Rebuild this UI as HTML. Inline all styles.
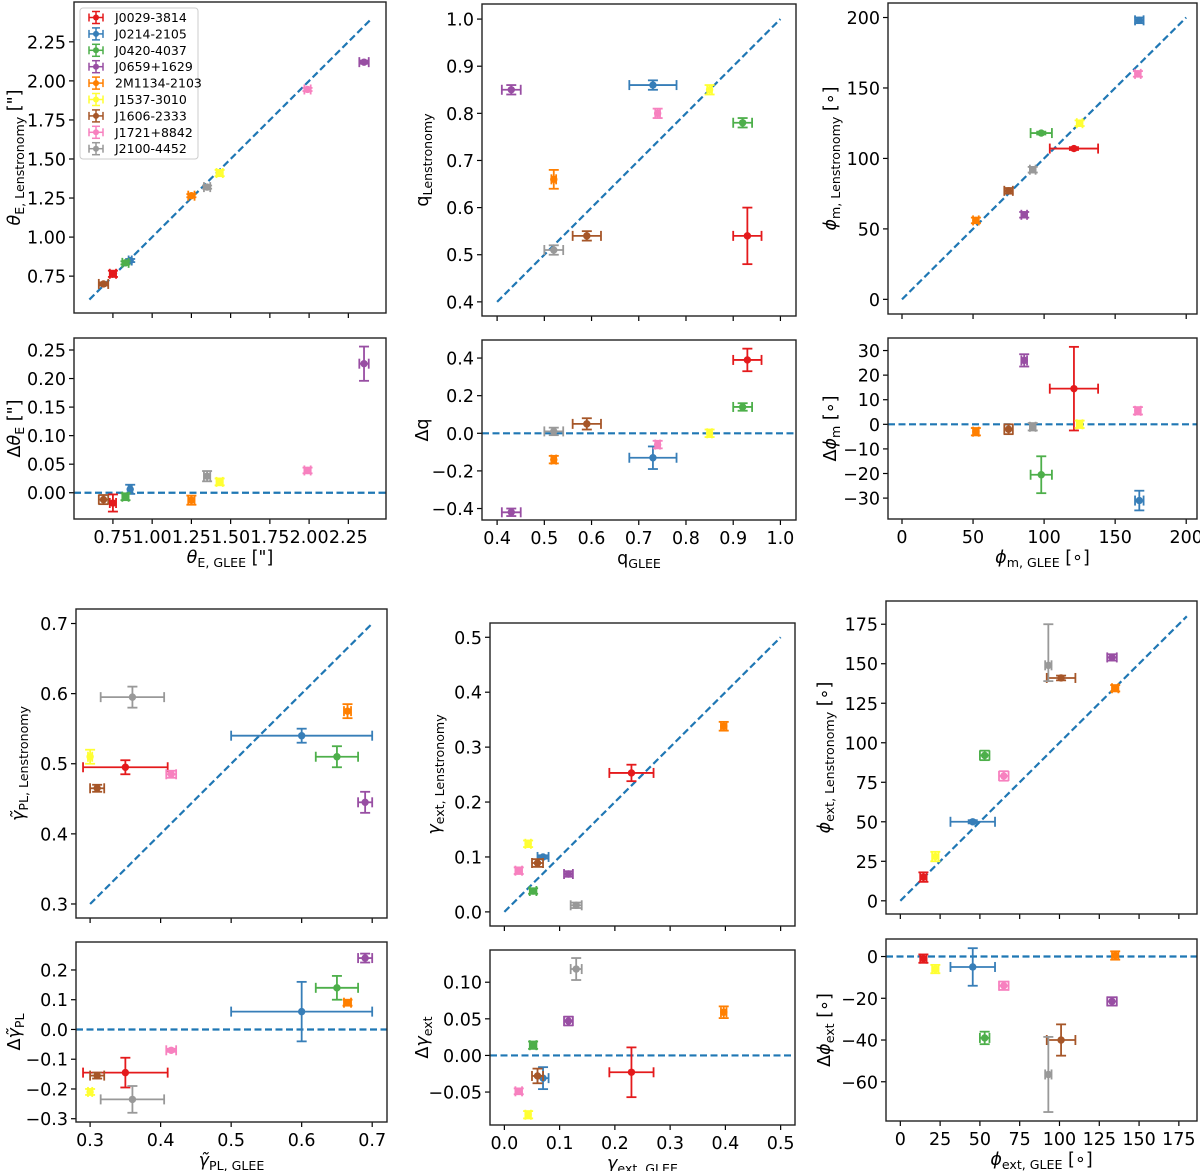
<!DOCTYPE html>
<html><head><meta charset="utf-8"><style>
html,body{margin:0;padding:0;background:#fff}
svg{display:block;font-family:"DejaVu Sans","Liberation Sans",sans-serif}
</style></head><body>
<svg id="fig" width="1200" height="1171" viewBox="0 0 1200 1171" xmlns="http://www.w3.org/2000/svg"></svg>
<script>
// ---- data (order: J0029, J0214, J0420, J0659, 2M1134, J1537, J1606, J1721, J2100)
const lensNames = ["J0029-3814","J0214-2105","J0420-4037","J0659+1629","2M1134-2103","J1537-3010","J1606-2333","J1721+8842","J2100-4452"];
const lensColors = ["#e41a1c","#377eb8","#4daf4a","#984ea3","#ff7f00","#ffff33","#a65628","#f781bf","#999999"];

const thetaGlee = [0.75,0.86,0.83,2.35,1.25,1.43,0.69,1.99,1.35];
const thetaGleeErr = [0.02,0.01,0.02,0.03,0.02,0.02,0.03,0.02,0.02];
const thetaLens = [0.765,0.85,0.835,2.12,1.265,1.41,0.70,1.945,1.32];
const thetaLensErr = [0.02,0.01,0.01,0.01,0.01,0.02,0.01,0.01,0.01];
const thetaDelta = [-0.018,0.006,-0.007,0.226,-0.013,0.019,-0.012,0.039,0.029];
const thetaDeltaErr = [0.015,0.008,0.006,0.03,0.008,0.006,0.008,0.005,0.009];

const qGlee = [0.93,0.73,0.92,0.43,0.52,0.85,0.59,0.74,0.52];
const qGleeErr = [0.03,0.05,0.02,0.02,0.005,0.005,0.03,0.005,0.02];
const qLens = [0.54,0.86,0.78,0.85,0.66,0.85,0.54,0.80,0.51];
const qLensErr = [0.06,0.01,0.01,0.01,0.02,0.01,0.01,0.01,0.01];
const qDelta = [0.39,-0.13,0.14,-0.42,-0.14,0.0,0.05,-0.06,0.01];
const qDeltaErr = [0.06,0.06,0.02,0.02,0.02,0.02,0.03,0.02,0.02];

const phiGlee = [121,167,98,86,52,125,75,166,92];
const phiGleeErr = [17,3,7.5,2,2,2,3,2,2];
const phiLens = [107,198,118,60,56,125,77,160,92];
const phiLensErr = [1,2,1,2,2,2,2,2,2];
const phiDelta = [14.5,-31,-20.5,26,-3,0,-2,5.5,-1];
const phiDeltaErr = [17,4,7.5,2.5,1.5,1.5,2,1.5,1.5];

const gamGlee = [0.35,0.60,0.65,0.69,0.665,0.30,0.31,0.415,0.36];
const gamGleeErr = [0.06,0.10,0.03,0.01,0.005,0.003,0.01,0.007,0.045];
const gamLens = [0.495,0.54,0.51,0.445,0.575,0.51,0.465,0.485,0.595];
const gamLensErr = [0.01,0.01,0.015,0.015,0.01,0.01,0.005,0.005,0.015];
const gamDelta = [-0.145,0.06,0.14,0.24,0.09,-0.21,-0.155,-0.07,-0.235];
const gamDeltaErr = [0.05,0.10,0.04,0.015,0.01,0.01,0.01,0.005,0.045];

const shGlee = [0.23,0.07,0.052,0.116,0.397,0.043,0.06,0.026,0.13];
const shGleeErr = [0.04,0.01,0.006,0.008,0.005,0.005,0.01,0.006,0.01];
const shLens = [0.253,0.10,0.038,0.069,0.338,0.124,0.089,0.075,0.012];
const shLensErr = [0.015,0.003,0.005,0.005,0.008,0.006,0.007,0.006,0.005];
const shDelta = [-0.023,-0.031,0.014,0.047,0.059,-0.081,-0.028,-0.049,0.118];
const shDeltaErr = [0.034,0.015,0.005,0.006,0.008,0.005,0.01,0.004,0.015];

const pextGlee = [14.5,45.5,53,133,135,22,101,65,93];
const pextGleeErr = [2,14,3,3,2,2,9,3,2];
const pextLens = [15,50,92,154,134.5,28,141,79,149];
const pextLensErr = [3,1,3,2,2,3,1.5,3,[10,26]];
const pextDelta = [-1,-5,-39,-21.5,0.5,-6,-40,-14,-56.5];
const pextDeltaErr = [2,9,3,2,2,2,7.5,2,18];

// tick labels
const ticksThetaX = [0.75,1.00,1.25,1.50,1.75,2.00,2.25];
const ticksThetaY = [0.75,1.00,1.25,1.50,1.75,2.00,2.25];
const ticksThetaD = [0.00,0.05,0.10,0.15,0.20,0.25];
const ticksQ = [0.4,0.5,0.6,0.7,0.8,0.9,1.0];
const ticksQD = [-0.4,-0.2,0.0,0.2,0.4];
const ticksPhiX = [0,50,100,150,200];
const ticksPhiD = [-30,-20,-10,0,10,20,30];
const ticksGamX = [0.3,0.4,0.5,0.6,0.7];
const ticksGamD = [-0.3,-0.2,-0.1,0.0,0.1,0.2];
const ticksShX = [0.0,0.1,0.2,0.3,0.4,0.5];
const ticksShD = [-0.05,0.00,0.05,0.10];
const ticksPextX = [0,25,50,75,100,125,150,175];
const ticksPextD = [-60,-40,-20,0];

const NS = "http://www.w3.org/2000/svg";
const fig = document.getElementById('fig');
const TF = 17.5;
function mk(tag, attrs, parent){
  const e = document.createElementNS(NS, tag);
  for (const k in attrs) e.setAttribute(k, attrs[k]);
  (parent||fig).appendChild(e);
  return e;
}
function fmt(v, d){ const s = v.toFixed(d); return s.replace('-', '\u2212'); }

function label(parent, x, y, parts, rot, size){
  const t = mk('text', {x:x, y:y, 'font-size':size, 'text-anchor':'middle', fill:'#000'}, parent);
  
  
  if (rot) t.setAttribute('transform', 'rotate(-90 '+x+' '+y+')');
  parts.forEach(p => {
    const s = mk('tspan', {}, t);
    s.textContent = p[0];
    if (p[1]==='i'){ s.setAttribute('font-style','italic'); }
    if (p[1]==='sub'){ s.setAttribute('font-size', size*0.72); s.setAttribute('dy', 4); }
    if (p[1]==='up'){ s.setAttribute('dy', -4); }
  });
  return t;
}

function panel(cfg){
  const g = mk('g', {});
  
  
  const [x0,x1] = cfg.px, [y0,y1] = cfg.py;
  const [dx0,dx1] = cfg.dx, [dy0,dy1] = cfg.dy;
  const sx = v => x0 + (v-dx0)/(dx1-dx0)*(x1-x0);
  const sy = v => y1 - (v-dy0)/(dy1-dy0)*(y1-y0);
  cfg.xt.forEach(v => {
    const X = sx(v);
    const tk = mk('line', {x1:X, x2:X, y1:y1, y2:y1+5, stroke:'#000', 'stroke-width':1.2}, g);
    
    
    if (cfg.xlab){
      const t = mk('text', {x:X, y:y1+24, 'font-size':TF, 'text-anchor':'middle'}, g);
      
      
      t.textContent = fmt(v, cfg.xd);
    }
  });
  cfg.yt.forEach(v => {
    const Y = sy(v);
    const tk = mk('line', {x1:x0-5, x2:x0, y1:Y, y2:Y, stroke:'#000', 'stroke-width':1.2}, g);
    
    
    const t = mk('text', {x:x0-8, y:Y+6.5, 'font-size':TF, 'text-anchor':'end'}, g);
    
    
    t.textContent = fmt(v, cfg.yd);
  });
  let ln;
  if (cfg.diag){
    ln = mk('line', {x1:sx(cfg.diag[0]), y1:sy(cfg.diag[0]), x2:sx(cfg.diag[1]), y2:sy(cfg.diag[1]), stroke:'#1f77b4', 'stroke-width':2.2, 'stroke-dasharray':'7,3.5'}, g);
    
  } else {
    ln = mk('line', {x1:x0, y1:sy(0), x2:x1, y2:sy(0), stroke:'#1f77b4', 'stroke-width':2.2, 'stroke-dasharray':'7,3.5'}, g);
    
  }
  
  cfg.xs.forEach((xv, i) => {
    const yv = cfg.ys[i];
    const c = lensColors[i];
    const pg = mk('g', {stroke:c, 'stroke-width':1.8, fill:c}, g);
    
    
    const xe = cfg.xe[i], ye = cfg.ye[i];
    const xl = Array.isArray(xe)?xe[0]:xe, xh = Array.isArray(xe)?xe[1]:xe;
    const yl = Array.isArray(ye)?ye[0]:ye, yh = Array.isArray(ye)?ye[1]:ye;
    const X = sx(xv), Y = sy(yv);
    const XL = sx(xv-xl), XH = sx(xv+xh), YL = sy(yv-yl), YH = sy(yv+yh);
    mk('line', {x1:XL, x2:XH, y1:Y, y2:Y}, pg);
    mk('line', {x1:XL, x2:XL, y1:Y-5, y2:Y+5}, pg);
    mk('line', {x1:XH, x2:XH, y1:Y-5, y2:Y+5}, pg);
    mk('line', {x1:X, x2:X, y1:YL, y2:YH}, pg);
    mk('line', {x1:X-5, x2:X+5, y1:YL, y2:YL}, pg);
    mk('line', {x1:X-5, x2:X+5, y1:YH, y2:YH}, pg);
    mk('circle', {cx:X, cy:Y, r:3.7, stroke:'none'}, pg);
  });
  const fr = mk('rect', {x:x0, y:y0, width:x1-x0, height:y1-y0, fill:'none', stroke:'#222', 'stroke-width':1.4}, g);
  
  
  if (cfg.ylabel) label(g, cfg.ylx, (y0+y1)/2, cfg.ylabel, true, 17.5);
  if (cfg.xlabel) label(g, (x0+x1)/2, y1+44, cfg.xlabel, false, 17.5);
  return {g, sx, sy};
}

panel({name:'theta-e-panel', px:[74,386], py:[2,313], dx:[0.502,2.49], dy:[0.514,2.505],
  xt:ticksThetaX, yt:ticksThetaY, xd:2, yd:2, diag:[0.6,2.4],
  xs:thetaGlee, ys:thetaLens, xe:thetaGleeErr, ye:thetaLensErr,
  ylabel:[['θ','i'],['E, Lenstronomy','sub'],[' ["]','up']], ylx:20});
panel({name:'delta-theta-e-panel', px:[74,386], py:[338,519], dx:[0.502,2.49], dy:[-0.046,0.271],
  xt:ticksThetaX, yt:ticksThetaD, xd:2, yd:2, xlab:true,
  xs:thetaGlee, ys:thetaDelta, xe:thetaGleeErr, ye:thetaDeltaErr,
  ylabel:[['Δ'],['θ','i'],['E','sub'],[' ["]','up']], ylx:20,
  xlabel:[['θ','i'],['E, GLEE','sub'],[' ["]','up']]});

panel({name:'q-panel', px:[482,796], py:[4,316], dx:[0.368,1.033], dy:[0.370,1.032],
  xt:ticksQ, yt:ticksQ, xd:1, yd:1, diag:[0.4,1.0],
  xs:qGlee, ys:qLens, xe:qGleeErr, ye:qLensErr,
  ylabel:[['q'],['Lenstronomy','sub']], ylx:428});
panel({name:'delta-q-panel', px:[482,796], py:[340,520], dx:[0.368,1.033], dy:[-0.461,0.496],
  xt:ticksQ, yt:ticksQD, xd:1, yd:1, xlab:true,
  xs:qGlee, ys:qDelta, xe:qGleeErr, ye:qDeltaErr,
  ylabel:[['Δq']], ylx:428, xlabel:[['q'],['GLEE','sub']]});

panel({name:'phi-m-panel', px:[888,1197], py:[3,314], dx:[-9.85,207.6], dy:[-10.4,210.3],
  xt:ticksPhiX, yt:ticksPhiX, xd:0, yd:0, diag:[0,200],
  xs:phiGlee, ys:phiLens, xe:phiGleeErr, ye:phiLensErr,
  ylabel:[['ϕ','i'],['m, Lenstronomy','sub'],[' [∘]','up']], ylx:836});
panel({name:'delta-phi-m-panel', px:[888,1197], py:[338,519], dx:[-9.85,207.6], dy:[-38.5,35.1],
  xt:ticksPhiX, yt:ticksPhiD, xd:0, yd:0, xlab:true,
  xs:phiGlee, ys:phiDelta, xe:phiGleeErr, ye:phiDeltaErr,
  ylabel:[['Δ'],['ϕ','i'],['m','sub'],[' [∘]','up']], ylx:836,
  xlabel:[['ϕ','i'],['m, GLEE','sub'],[' [∘]','up']]});

panel({name:'gamma-pl-panel', px:[76,387], py:[609,918], dx:[0.280,0.721], dy:[0.280,0.7207],
  xt:ticksGamX, yt:ticksGamX, xd:1, yd:1, diag:[0.3,0.7],
  xs:gamGlee, ys:gamLens, xe:gamGleeErr, ye:gamLensErr,
  ylabel:[['γ̃','i'],['PL, Lenstronomy','sub']], ylx:24});
panel({name:'delta-gamma-pl-panel', px:[76,387], py:[942,1122], dx:[0.280,0.721], dy:[-0.311,0.294],
  xt:ticksGamX, yt:ticksGamD, xd:1, yd:1, xlab:true,
  xs:gamGlee, ys:gamDelta, xe:gamGleeErr, ye:gamDeltaErr,
  ylabel:[['Δ'],['γ̃','i'],['PL','sub']], ylx:20, xlabel:[['γ̃','i'],['PL, GLEE','sub']]});

panel({name:'gamma-ext-panel', px:[490,795], py:[623,926], dx:[-0.026,0.526], dy:[-0.0257,0.526],
  xt:ticksShX, yt:ticksShX, xd:1, yd:1, diag:[0,0.5],
  xs:shGlee, ys:shLens, xe:shGleeErr, ye:shLensErr,
  ylabel:[['γ','i'],['ext, Lenstronomy','sub']], ylx:440});
panel({name:'delta-gamma-ext-panel', px:[490,795], py:[950,1125], dx:[-0.026,0.526], dy:[-0.095,0.144],
  xt:ticksShX, yt:ticksShD, xd:1, yd:2, xlab:true,
  xs:shGlee, ys:shDelta, xe:shGleeErr, ye:shDeltaErr,
  ylabel:[['Δ'],['γ','i'],['ext','sub']], ylx:428, xlabel:[['γ','i'],['ext, GLEE','sub']]});

panel({name:'phi-ext-panel', px:[886,1197], py:[601,914], dx:[-9.0,186.4], dy:[-8.35,189.7],
  xt:ticksPextX, yt:ticksPextX, xd:0, yd:0, diag:[0,180],
  xs:pextGlee, ys:pextLens, xe:pextGleeErr, ye:pextLensErr,
  ylabel:[['ϕ','i'],['ext, Lenstronomy','sub'],[' [∘]','up']], ylx:830});
panel({name:'delta-phi-ext-panel', px:[886,1197], py:[939,1121], dx:[-9.0,186.4], dy:[-78.8,8.4],
  xt:ticksPextX, yt:ticksPextD, xd:0, yd:0, xlab:true,
  xs:pextGlee, ys:pextDelta, xe:pextGleeErr, ye:pextDeltaErr,
  ylabel:[['Δ'],['ϕ','i'],['ext','sub'],[' [∘]','up']], ylx:830,
  xlabel:[['ϕ','i'],['ext, GLEE','sub'],[' [∘]','up']]});

const lg = mk('g', {});


const lbox = mk('rect', {x:80, y:8, width:118, height:151, rx:3, fill:'#fff', 'fill-opacity':0.85, stroke:'#ccc', 'stroke-width':1}, lg);


lensNames.forEach((n, i) => {
  const y = 17.5 + i*16.4;
  const e = mk('g', {stroke:lensColors[i], 'stroke-width':1.5, fill:lensColors[i]}, lg);
  
  
  mk('line', {x1:89, x2:103, y1:y, y2:y}, e);
  mk('line', {x1:96, x2:96, y1:y-6, y2:y+6}, e);
  mk('line', {x1:89, x2:89, y1:y-4, y2:y+4}, e);
  mk('line', {x1:103, x2:103, y1:y-4, y2:y+4}, e);
  mk('line', {x1:92, x2:100, y1:y-6, y2:y-6}, e);
  mk('line', {x1:92, x2:100, y1:y+6, y2:y+6}, e);
  mk('circle', {cx:96, cy:y, r:3, stroke:'none'}, e);
  const t = mk('text', {x:115, y:y+4.5, 'font-size':12.5, fill:'#000', stroke:'none'}, e);
  t.textContent = n;
});
</script>
</body></html>
